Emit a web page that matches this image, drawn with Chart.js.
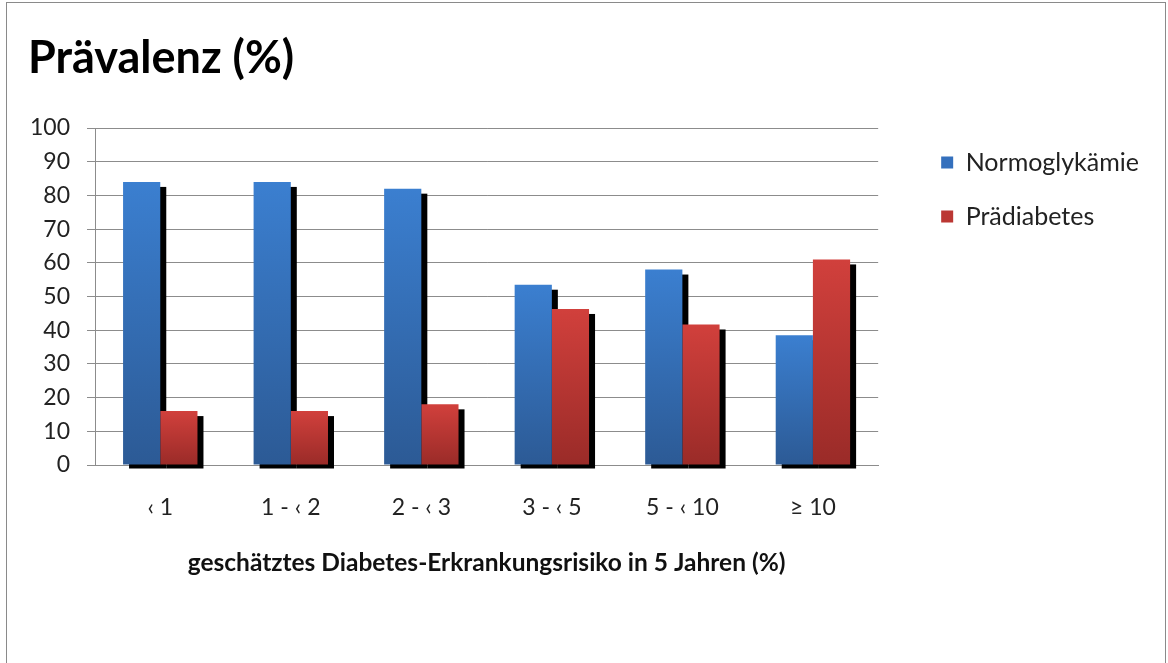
<!DOCTYPE html>
<html>
<head>
<meta charset="utf-8">
<script src="https://cdn.jsdelivr.net/npm/chart.js@4"></script>
<style>
  html, body { margin: 0; padding: 0; background: #fff; }
  #frame {
    position: absolute; left: 6px; top: 2px;
    width: 1160px; height: 670px;
    border: 1px solid #8a8a8a; box-sizing: border-box;
  }
  #chartCanvas { display: block; }
</style>
</head>
<body>
<div id="frame"><canvas id="chartCanvas" width="1158" height="668"></canvas></div>
<script>
const categories = ["\u2039 1", "1 - \u2039 2", "2 - \u2039 3", "3 - \u2039 5", "5 - \u2039 10", "\u2265 10"];
const normoglykaemie = [84, 84, 82, 53.5, 58, 38.5];
const praediabetes = [16, 16, 18, 46.3, 41.7, 61];
const seriesNames = ["Normoglykämie", "Prädiabetes"];

const FONT = "Lato, 'Open Sans', sans-serif";

// gradient per bar, light at the top, dark at the base
function barGradient(top, bottom) {
  return function (ctx) {
    const chart = ctx.chart;
    const y = chart.scales && chart.scales.y;
    if (!y || ctx.parsed === undefined) return top;
    const yTop = y.getPixelForValue(ctx.parsed.y);
    const yBase = y.getPixelForValue(0);
    if (!isFinite(yTop) || !isFinite(yBase) || yTop === yBase) return top;
    const g = chart.ctx.createLinearGradient(0, yTop, 0, yBase);
    g.addColorStop(0, top);
    g.addColorStop(1, bottom);
    return g;
  };
}

// black drop shadow behind every bar
const barShadow = {
  id: "barShadow",
  beforeDatasetsDraw(chart) {
    const c = chart.ctx;
    c.save();
    c.fillStyle = "#000";
    chart.data.datasets.forEach((ds, i) => {
      chart.getDatasetMeta(i).data.forEach(bar => {
        const left = bar.x - bar.width / 2;
        c.fillRect(left + 6, bar.y + 5, bar.width, bar.base - bar.y - 1);
      });
    });
    c.restore();
  }
};

const ctx = document.getElementById("chartCanvas").getContext("2d");
new Chart(ctx, {
  type: "bar",
  data: {
    labels: categories,
    datasets: [
      {
        label: seriesNames[0],
        data: normoglykaemie,
        backgroundColor: barGradient("#3b7fd0", "#2c5a95"),
        borderWidth: 0
      },
      {
        label: seriesNames[1],
        data: praediabetes,
        backgroundColor: barGradient("#d1403c", "#9a2b28"),
        borderWidth: 0
      }
    ]
  },
  options: {
    responsive: false,
    animation: false,
    categoryPercentage: 0.57,
    barPercentage: 1.0,
    layout: { padding: { left: 21, right: 16, top: 10, bottom: 93 } },
    plugins: {
      title: {
        display: true,
        text: "Prävalenz (%)",
        align: "start",
        color: "#000",
        font: { family: FONT, size: 45, weight: "bold" },
        padding: { top: 18, bottom: 43 }
      },
      legend: {
        position: "right",
        align: "start",
        title: { display: true, text: " ", font: { size: 10 }, padding: { top: 96, bottom: 0 } },
        labels: {
          color: "#222",
          font: { family: FONT, size: 25 },
          boxWidth: 12,
          boxHeight: 12,
          padding: 29,
          generateLabels(chart) {
            const cols = ["#3470bd", "#bb3733"];
            return chart.data.datasets.map((ds, i) => ({
              text: ds.label,
              fillStyle: cols[i],
              strokeStyle: cols[i],
              lineWidth: 0,
              datasetIndex: i,
              fontColor: "#222"
            }));
          }
        }
      },
      tooltip: { enabled: false }
    },
    scales: {
      x: {
        grid: { display: false },
        border: { display: true, color: "#8c8c8c", width: 1 },
        ticks: { color: "#222", font: { family: FONT, size: 23 }, padding: 21 },
        title: {
          display: true,
          text: "geschätztes Diabetes-Erkrankungsrisiko in 5 Jahren (%)",
          color: "#111",
          font: { family: FONT, size: 24.5, weight: "bold" },
          padding: { top: 6, bottom: 0 }
        }
      },
      y: {
        min: 0,
        max: 100,
        ticks: { stepSize: 10, color: "#222", font: { family: FONT, size: 23 }, padding: 17 },
        grid: { color: "#8c8c8c", tickLength: 8, lineWidth: 1 },
        border: { display: true, color: "#8c8c8c", width: 1 },
        afterFit(scale) { scale.width = 67; }
      },
      // empty spacer between plot area and legend (hidden, keeps its width)
      gap: {
        type: "linear",
        position: "right",
        display: false,
        afterFit(scale) { scale.width = 34; }
      }
    }
  },
  plugins: [barShadow]
});
</script>
</body>
</html>
